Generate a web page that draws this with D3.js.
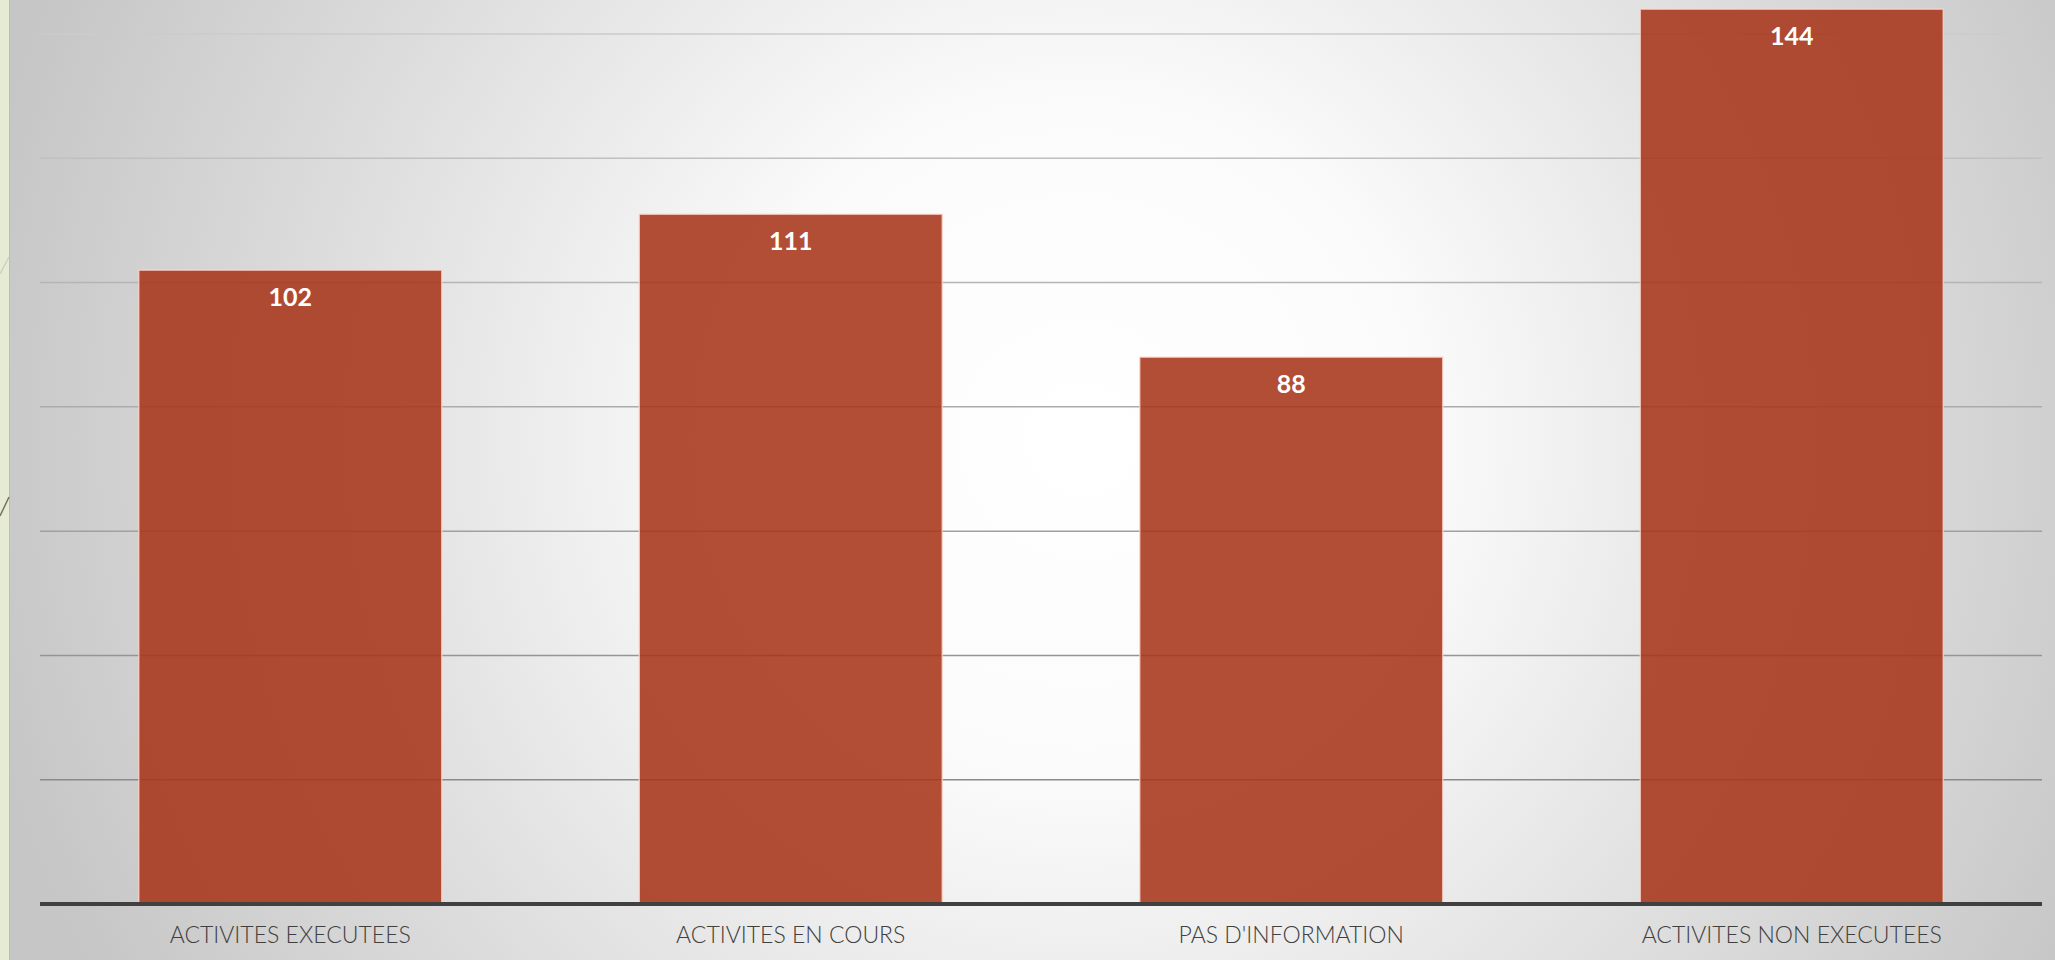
<!DOCTYPE html>
<html>
<head>
<meta charset="utf-8">
<script src="https://cdn.jsdelivr.net/npm/d3@7"></script>
<style>
  html, body { margin: 0; padding: 0; background: #ffffff; }
  svg { display: block; }
</style>
</head>
<body>
<svg id="chart" width="2055" height="960"></svg>
<script>
// ---- data ----
const categories = ["ACTIVITES EXECUTEES", "ACTIVITES EN COURS", "PAS D'INFORMATION", "ACTIVITES NON EXECUTEES"];
const values = [102, 111, 88, 144];
const yTicks = [0, 20, 40, 60, 80, 100, 120, 140];

// ---- layout ----
const W = 2055, H = 960;
const plotLeft = 40, plotRight = 2042, plotTop = 34, plotBottom = 904;

const svg = d3.select("#chart");
const defs = svg.append("defs");

// background radial gradient
const rg = defs.append("radialGradient")
  .attr("id", "bg").attr("gradientUnits", "userSpaceOnUse")
  .attr("cx", 1080).attr("cy", 440).attr("r", 1120);
rg.append("stop").attr("offset", "0").attr("stop-color", "#ffffff");
rg.append("stop").attr("offset", "0.3").attr("stop-color", "#fbfbfb");
rg.append("stop").attr("offset", "0.7").attr("stop-color", "#dcdcdc");
rg.append("stop").attr("offset", "1").attr("stop-color", "#c6c6c6");

svg.append("rect").attr("x", 0).attr("y", 0).attr("width", W).attr("height", H).attr("fill", "url(#bg)");

// left decorative strip
svg.append("rect").attr("x", 0).attr("y", 0).attr("width", 9).attr("height", H).attr("fill", "#e6ecd4");
svg.append("line").attr("x1", 9.5).attr("x2", 9.5).attr("y1", 0).attr("y2", H)
  .attr("stroke", "#bdbdbd").attr("stroke-width", 1);
svg.append("line").attr("x1", 0).attr("y1", 274).attr("x2", 9).attr("y2", 257)
  .attr("stroke", "#cfcfc0").attr("stroke-width", 1.5);
svg.append("line").attr("x1", 0).attr("y1", 516).attr("x2", 9).attr("y2", 497)
  .attr("stroke", "#7d705a").attr("stroke-width", 1.5);

// scales
const x = d3.scaleBand().domain(categories).range([plotLeft, plotRight]).paddingInner(0.3946).paddingOuter(0.1973);
const y = d3.scaleLinear().domain([0, 140]).range([plotBottom, plotTop]);

// gridlines (darker toward bottom)
const gridColor = d3.scaleLinear().domain([140, 20]).range(["#cbcbcb", "#8a8a8a"]);
svg.append("g").selectAll("line")
  .data(yTicks.filter(t => t > 0))
  .join("line")
  .attr("x1", plotLeft).attr("x2", plotRight)
  .attr("y1", d => y(d)).attr("y2", d => y(d))
  .attr("stroke", d => gridColor(d))
  .attr("stroke-width", 1.5);

// bars
svg.append("g").selectAll("rect")
  .data(values)
  .join("rect")
  .attr("x", (d, i) => x(categories[i]))
  .attr("width", x.bandwidth())
  .attr("y", d => y(d))
  .attr("height", d => y(0) - y(d))
  .attr("fill", "rgb(168,54,26)")
  .attr("fill-opacity", 0.88)
  .attr("stroke", "rgba(255,215,205,0.75)")
  .attr("stroke-width", 1.5);

// value labels
svg.append("g").selectAll("text")
  .data(values)
  .join("text")
  .attr("x", (d, i) => x(categories[i]) + x.bandwidth() / 2)
  .attr("y", d => y(d) + 36)
  .attr("text-anchor", "middle")
  .attr("fill", "#ffffff")
  .attr("font-family", "Lato, 'Open Sans', sans-serif")
  .attr("font-weight", 700)
  .attr("font-size", 25)
  .text(d => d);

// x axis line
svg.append("line")
  .attr("x1", plotLeft).attr("x2", plotRight)
  .attr("y1", y(0)).attr("y2", y(0))
  .attr("stroke", "#404040").attr("stroke-width", 4);

// category labels
svg.append("g").selectAll("text")
  .data(categories)
  .join("text")
  .attr("x", d => x(d) + x.bandwidth() / 2)
  .attr("y", 943)
  .attr("text-anchor", "middle")
  .attr("fill", "#404040")
  .attr("font-family", "Lato, 'Open Sans', sans-serif")
  .attr("font-weight", 300)
  .attr("font-size", 23)
  .text(d => d);
</script>
</body>
</html>
